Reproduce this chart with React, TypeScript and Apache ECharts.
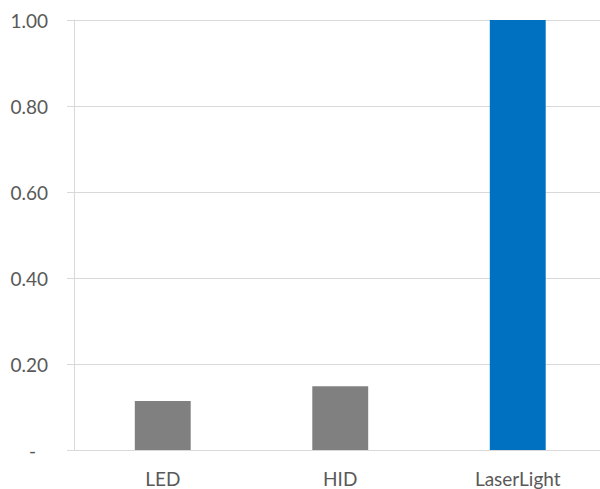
import React, { useEffect, useRef } from "react";
import * as echarts from "echarts";

const categories = ["LED", "HID", "LaserLight"];
const values = [0.114, 0.148, 1.0];
const barColors = ["#808080", "#808080", "#0070C0"];
const yTicks = { min: 0, max: 1, interval: 0.2 };

export default function App() {
  const ref = useRef<HTMLDivElement>(null);
  useEffect(() => {
    if (!ref.current) return;
    const chart = echarts.init(ref.current, undefined, { renderer: "svg" });
    const font = "Lato, 'Open Sans', sans-serif";
    chart.setOption({
      animation: false,
      grid: {
        left: 74,
        top: 20,
        width: 532.5,
        height: 430,
        containLabel: false,
        outerBoundsMode: "none",
      },
      xAxis: {
        type: "category",
        data: categories,
        axisLine: { show: true, lineStyle: { color: "#d9d9d9", width: 1 } },
        axisTick: { show: false },
        axisLabel: { color: "#595959", fontSize: 19, fontFamily: font, margin: 19 },
      },
      yAxis: {
        type: "value",
        min: yTicks.min,
        max: yTicks.max,
        interval: yTicks.interval,
        axisLine: { show: true, lineStyle: { color: "#d9d9d9", width: 1 } },
        axisTick: { show: true, length: 7, lineStyle: { color: "#d9d9d9" } },
        splitLine: { show: true, lineStyle: { color: "#d9d9d9", width: 1 } },
        axisLabel: {
          color: "#595959",
          fontSize: 19,
          fontFamily: font,
          margin: 26,
          formatter: (v: number) => (v === 0 ? "{d|-}" : v.toFixed(2)),
          rich: { d: { color: "#595959", fontSize: 19, fontFamily: font, padding: [0, 12, 0, 0] } },
        },
      },
      series: [
        {
          type: "bar",
          data: values.map((v, i) => ({ value: v, itemStyle: { color: barColors[i] } })),
          barWidth: "31.5%",
        },
      ],
    });
    return () => chart.dispose();
  }, []);
  return <div ref={ref} style={{ width: 600, height: 489, position: "absolute", left: 0, top: 0 }} />;
}
